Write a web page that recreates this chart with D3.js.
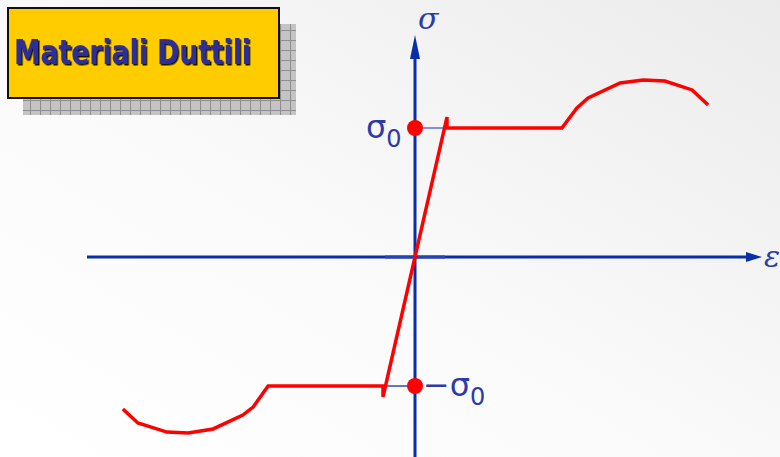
<!DOCTYPE html>
<html>
<head>
<meta charset="utf-8">
<script src="https://cdn.jsdelivr.net/npm/d3@7"></script>
<style>
  body { margin: 0; }
  svg { display: block; }
</style>
</head>
<body>
<div id="chart"></div>
<script>
// Data: strain (in units of yield strain) and stress (in units of sigma0)
const tensionStrain = [0, 1, 1, 4.59, 5.06, 5.41, 6.41, 7.13, 7.81, 8.66, 9.16];
const tensionStress = [0, 1.085, 1, 1, 1.155, 1.233, 1.349, 1.372, 1.364, 1.295, 1.178];
const compressionStrain = [0, -1, -1, -4.59, -5.06, -5.38, -6.31, -7.09, -7.75, -8.66, -9.13];
const compressionStress = [0, -1.085, -1, -1, -1.163, -1.225, -1.333, -1.364, -1.357, -1.287, -1.178];
const yieldMarks = [1, -1];
const yieldLabels = ["σ", "−σ"];
const title = "Materiali Duttili";

const W = 780, H = 457;
const axisColor = "#0a2ea6";
const labelColor = "#2e3aa8";

const svg = d3.select("#chart")
    .append("svg")
    .attr("width", W)
    .attr("height", H);

const defs = svg.append("defs");

// background gradient
const bg = defs.append("linearGradient")
    .attr("id", "bg")
    .attr("x1", "0%").attr("y1", "100%")
    .attr("x2", "100%").attr("y2", "0%");
bg.append("stop").attr("offset", "0%").attr("stop-color", "#ffffff");
bg.append("stop").attr("offset", "45%").attr("stop-color", "#fafafa");
bg.append("stop").attr("offset", "100%").attr("stop-color", "#ebebeb");

svg.append("rect")
    .attr("width", W).attr("height", H)
    .attr("fill", "url(#bg)");

// grid pattern for title shadow
const pat = defs.append("pattern")
    .attr("id", "grid")
    .attr("width", 10).attr("height", 10)
    .attr("patternUnits", "userSpaceOnUse");
pat.append("rect").attr("width", 10).attr("height", 10).attr("fill", "#c4c4c4");
pat.append("path")
    .attr("d", "M0,0.5H10M0.5,0V10")
    .attr("stroke", "#8e8e8e")
    .attr("stroke-width", 1);

// text shadow for title
defs.append("filter")
    .attr("id", "tshadow")
    .append("feDropShadow")
    .attr("dx", 1.5).attr("dy", 1.5)
    .attr("stdDeviation", 0.4)
    .attr("flood-color", "#000")
    .attr("flood-opacity", 0.9);

// Scales
const x = d3.scaleLinear().domain([-1, 1]).range([383, 447]);
const y = d3.scaleLinear().domain([-1, 1]).range([386, 128]);

// Title box
svg.append("rect")
    .attr("x", 23).attr("y", 24)
    .attr("width", 273).attr("height", 91)
    .attr("fill", "url(#grid)");
svg.append("rect")
    .attr("x", 8).attr("y", 8)
    .attr("width", 271).attr("height", 90)
    .attr("fill", "#ffcc00")
    .attr("stroke", "#111")
    .attr("stroke-width", 2);
svg.append("text")
    .attr("x", 14).attr("y", 64)
    .attr("textLength", 237)
    .attr("lengthAdjust", "spacingAndGlyphs")
    .style("font-family", "'Comic Sans MS', 'DejaVu Sans', sans-serif")
    .style("font-size", "33px")
    .style("font-weight", "bold")
    .attr("fill", "#2f2f9a")
    .attr("filter", "url(#tshadow)")
    .text(title);

// Axes
const xMin = x.invert(87), xMax = x.invert(748);
const yTop = y.invert(57), yBottom = y.invert(457);

svg.append("line")
    .attr("x1", x(xMin)).attr("x2", x(xMax))
    .attr("y1", y(0)).attr("y2", y(0))
    .attr("stroke", axisColor)
    .attr("stroke-width", 3);
// slightly lighter strip near origin
svg.append("line")
    .attr("x1", 385).attr("x2", 445)
    .attr("y1", y(0)).attr("y2", y(0))
    .attr("stroke", "#2444b4")
    .attr("stroke-width", 3);
svg.append("path")
    .attr("d", `M${x(xMax) - 2},${y(0) - 5}L${x(xMax) + 14},${y(0)}L${x(xMax) - 2},${y(0) + 5}Z`)
    .attr("fill", axisColor);

svg.append("line")
    .attr("x1", x(0)).attr("x2", x(0))
    .attr("y1", y(yTop)).attr("y2", y(yBottom))
    .attr("stroke", axisColor)
    .attr("stroke-width", 3);
svg.append("path")
    .attr("d", `M${x(0) - 5},${y(yTop) + 2}L${x(0)},${y(yTop) - 22}L${x(0) + 5},${y(yTop) + 2}Z`)
    .attr("fill", axisColor);

// axis labels
svg.append("text")
    .attr("x", 418).attr("y", 29)
    .style("font-family", "'DejaVu Serif', serif")
    .style("font-style", "italic")
    .style("font-size", "30px")
    .attr("fill", labelColor)
    .text("σ");
svg.append("text")
    .attr("x", 764).attr("y", 267)
    .style("font-family", "'DejaVu Serif', serif")
    .style("font-style", "italic")
    .style("font-size", "30px")
    .attr("fill", labelColor)
    .text("ε");

// yield guide lines
svg.append("line")
    .attr("x1", x(0)).attr("x2", x(1) + 2)
    .attr("y1", y(1)).attr("y2", y(1))
    .attr("stroke", "#5a6fcc").attr("stroke-width", 1.5);
svg.append("line")
    .attr("x1", x(-1) + 4).attr("x2", x(0))
    .attr("y1", y(-1)).attr("y2", y(-1))
    .attr("stroke", "#3048b4").attr("stroke-width", 1.5);

// curves
const line = d3.line().x(d => x(d[0])).y(d => y(d[1]));
const tension = d3.zip(tensionStrain, tensionStress);
const compression = d3.zip(compressionStrain, compressionStress);

[tension, compression].forEach(pts => {
    svg.append("path")
        .datum(pts)
        .attr("fill", "none")
        .attr("stroke", "#ff0000")
        .attr("stroke-width", 3.5)
        .attr("stroke-linejoin", "miter")
        .attr("d", line);
});

// yield points
svg.selectAll(".yp")
    .data(yieldMarks)
    .join("circle")
    .attr("cx", x(0))
    .attr("cy", d => y(d))
    .attr("r", 8)
    .attr("fill", "#ff0000");

// yield labels
const yl = svg.selectAll(".yl")
    .data(yieldMarks)
    .join("text")
    .attr("x", d => d > 0 ? 366 : 423)
    .attr("y", d => y(d) + 10)
    .style("font-family", "'DejaVu Sans', sans-serif")
    .style("font-size", "32px")
    .attr("fill", labelColor);
yl.append("tspan").text((d, i) => yieldLabels[i]);
yl.append("tspan")
    .attr("dy", 9)
    .style("font-size", "24px")
    .text("0");
</script>
</body>
</html>
